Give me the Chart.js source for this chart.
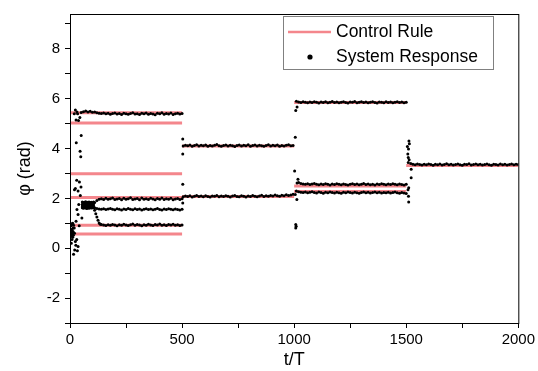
<!DOCTYPE html>
<html lang="en">
<head>
    <meta charset="UTF-8">
    <title>Control rule vs system response</title>
    <style>
        body { margin: 0; background: #fff; }
        canvas { display: block; }
    </style>
</head>
<body>
    <canvas id="myChart" width="538" height="371"></canvas>

<script src="https://cdn.jsdelivr.net/npm/chart.js@4.4.0/dist/chart.umd.min.js"></script>

<script>
    // control rule: horizontal pieces (start t, end t, phi)
    const ruleStart = [0, 0, 0, 0, 0, 0, 500, 500, 1000, 1000, 1000, 1500];
    const ruleEnd   = [500, 500, 500, 500, 500, 500, 1000, 1000, 1500, 1500, 1500, 2000];
    const ruleValue = [5.44, 5.03, 2.99, 2.04, 0.92, 0.57, 4.10, 2.08, 5.85, 2.50, 2.28, 3.32];

    // system response, sampled every 10 t/T on each plateau
    const step = 10;
    const topStart = 60;
    const topA = [5.48,5.51,5.47,5.50,5.46,5.47,5.44,5.42,5.41,5.43,
                  5.40,5.42,5.38,5.41,5.43,5.39,5.41,5.37,5.42,5.40,
                  5.38,5.41,5.44,5.39,5.40,5.37,5.42,5.40,5.43,5.38,
                  5.41,5.39,5.36,5.42,5.40,5.44,5.38,5.41,5.39,5.43,
                  5.37,5.40,5.42,5.39,5.41];
    const upperStart = 110;
    const upperB = [1.84,1.92,1.97,1.99,1.96,2.01,1.97,1.99,2.02,1.96,
                    1.98,2.00,1.95,2.01,1.97,1.99,2.03,1.96,1.98,2.00,
                    1.95,2.02,1.97,1.99,1.96,2.01,1.98,1.95,2.00,1.97,
                    2.02,1.96,1.99,1.97,2.01,1.95,1.98,2.00,1.96,1.99];
    const middleStart = 110;
    const middleC = [1.62,1.59,1.57,1.56,1.58,1.55,1.57,1.59,1.56,1.54,
                     1.58,1.56,1.53,1.57,1.55,1.59,1.56,1.54,1.58,1.55,
                     1.57,1.53,1.56,1.58,1.55,1.57,1.54,1.56,1.59,1.55,
                     1.53,1.57,1.55,1.58,1.56,1.54,1.57,1.55,1.53,1.56];
    const lowerStart = 140;
    const lowerD = [0.95,0.93,0.91,0.94,0.92,0.95,0.93,0.90,0.94,0.92,
                    0.96,0.93,0.91,0.94,0.97,0.92,0.95,0.93,0.90,0.94,
                    0.92,0.96,0.93,0.91,0.95,0.93,0.97,0.92,0.94,0.91,
                    0.95,0.93,0.96,0.92,0.94,0.91,0.93];
    // dense block before the branches split (every 5 t/T)
    const blockStart = 55;
    const blockStep = 5;
    const blockRows = [
        [1.86,1.84,1.85,1.87,1.83,1.85,1.86,1.84,1.85,1.83,1.86],
        [1.77,1.79,1.76,1.78,1.77,1.75,1.78,1.77,1.79,1.76,1.78],
        [1.70,1.68,1.69,1.71,1.67,1.70,1.69,1.68,1.70,1.69,1.71],
        [1.62,1.60,1.63,1.61,1.59,1.62,1.60,1.63,1.61,1.62,1.63]
    ];
    const secondStart = 505;
    const secondE = [4.10,4.13,4.11,4.14,4.09,4.12,4.15,4.10,4.13,4.11,
                     4.14,4.09,4.12,4.10,4.13,4.16,4.11,4.09,4.12,4.14,
                     4.10,4.13,4.11,4.08,4.12,4.14,4.10,4.13,4.11,4.15,
                     4.09,4.12,4.14,4.10,4.13,4.11,4.09,4.12,4.15,4.10,
                     4.13,4.11,4.14,4.09,4.12,4.10,4.13,4.15,4.11,4.12];
    const secondF = [2.07,2.10,2.08,2.11,2.06,2.09,2.12,2.08,2.10,2.07,
                     2.11,2.08,2.06,2.10,2.09,2.12,2.07,2.10,2.08,2.11,
                     2.09,2.06,2.10,2.12,2.08,2.07,2.11,2.09,2.06,2.10,
                     2.08,2.12,2.09,2.07,2.10,2.13,2.08,2.11,2.09,2.12,
                     2.10,2.14,2.11,2.09,2.13,2.11,2.15,2.12,2.14,2.17];
    const thirdStart = 1010;
    const thirdG = [5.90,5.87,5.85,5.88,5.86,5.84,5.87,5.85,5.88,5.86,
                    5.83,5.87,5.85,5.88,5.84,5.86,5.89,5.85,5.87,5.84,
                    5.86,5.88,5.85,5.83,5.87,5.86,5.89,5.84,5.86,5.88,
                    5.85,5.87,5.84,5.86,5.88,5.85,5.83,5.87,5.86,5.84,
                    5.88,5.85,5.87,5.84,5.86,5.88,5.85,5.87,5.84,5.86];
    const thirdHStart = 1020;
    const thirdH = [2.64,2.60,2.58,2.57,2.59,2.56,2.58,2.60,2.57,2.55,
                    2.58,2.56,2.59,2.57,2.54,2.58,2.56,2.59,2.57,2.55,
                    2.58,2.56,2.54,2.57,2.59,2.56,2.58,2.55,2.57,2.60,
                    2.56,2.58,2.55,2.57,2.54,2.58,2.56,2.59,2.57,2.55,
                    2.58,2.56,2.59,2.57,2.55,2.58,2.56,2.54,2.57];
    const thirdI = [2.30,2.27,2.25,2.24,2.26,2.23,2.25,2.27,2.24,2.22,
                    2.26,2.24,2.21,2.25,2.23,2.26,2.24,2.22,2.25,2.23,
                    2.21,2.25,2.23,2.26,2.24,2.22,2.25,2.23,2.21,2.24,
                    2.26,2.23,2.25,2.22,2.24,2.26,2.23,2.25,2.22,2.24,
                    2.23,2.25,2.22,2.24,2.26,2.23,2.21,2.24,2.22,2.20];
    const fourthStart = 1520;
    const fourthJ = [3.40,3.37,3.35,3.38,3.36,3.34,3.37,3.35,3.38,3.36,
                     3.33,3.37,3.35,3.38,3.34,3.36,3.39,3.35,3.37,3.34,
                     3.36,3.38,3.35,3.33,3.37,3.36,3.39,3.34,3.36,3.38,
                     3.35,3.37,3.34,3.36,3.38,3.35,3.33,3.37,3.36,3.34,
                     3.38,3.35,3.37,3.34,3.36,3.38,3.35,3.37,3.36];

    // scattered transient points [t, phi]
    const transients = [
        [4,0.55],[5,0.90],[6,0.75],[7,0.62],[8,0.48],[9,0.35],[10,0.70],[11,0.58],
        [12,0.44],[13,0.80],[14,0.66],[15,0.52],[16,0.92],[6,0.20],[9,0.98],[12,1.00],
        [16,-0.24],[19,0.81],[20,0.60],[21,-0.07],[24,0.27],[26,0.12],[27,1.08],[30,0.35],
        [36,0.07],[33,-0.10],[41,0.90],[36,1.35],[31,1.55],[39,1.76],[46,2.12],[53,1.21],
        [20,2.35],[24,2.40],[36,2.30],[30,2.73],[42,2.66],[49,2.46],[28,4.23],[45,3.89],
        [48,3.67],[50,4.52],[27,5.15],[38,5.13],[31,5.47],[19,5.40],[34,5.40],[24,5.55],
        [44,5.25],[50,5.45],
        [105,1.62],[110,1.52],[115,1.38],[120,1.25],[125,1.12],[130,1.01],[135,0.96],
        [503,4.38],[503,3.78],[503,2.57],[503,1.82],
        [1007,5.53],[1013,5.67],[1005,4.45],[1002,3.10],[1017,2.77],[1013,2.62],
        [1005,2.16],[1012,1.96],[1007,0.95],[1007,0.81],[1009,0.88],
        [1514,4.19],[1512,4.30],[1510,3.98],[1507,3.78],[1509,3.64],[1509,3.44],
        [1522,3.17],[1522,2.83],[1511,2.43],[1510,2.09],[1511,1.86],[1505,4.08],
        [1513,3.55],[1508,2.35]
    ];

    const xTicks = [0, 500, 1000, 1500, 2000];
    const yTicks = [-2, 0, 2, 4, 6, 8];

    const ruleColor = '#f4868c';

    function plateau(start, values, dt) {
        return values.map((v, i) => ({ x: start + i * dt, y: v }));
    }

    const ruleData = [];
    ruleValue.forEach((v, i) => {
        ruleData.push({ x: ruleStart[i], y: v });
        ruleData.push({ x: ruleEnd[i], y: v });
        ruleData.push({ x: ruleEnd[i], y: null });
    });

    let responseData = []
        .concat(plateau(topStart, topA, step))
        .concat(plateau(upperStart, upperB, step))
        .concat(plateau(middleStart, middleC, step))
        .concat(plateau(lowerStart, lowerD, step))
        .concat(plateau(secondStart, secondE, step))
        .concat(plateau(secondStart, secondF, step))
        .concat(plateau(thirdStart, thirdG, step))
        .concat(plateau(thirdHStart, thirdH, step))
        .concat(plateau(thirdStart, thirdI, step))
        .concat(plateau(fourthStart, fourthJ, step));
    blockRows.forEach(row => {
        responseData = responseData.concat(plateau(blockStart, row, blockStep));
    });
    transients.forEach(p => responseData.push({ x: p[0], y: p[1] }));

    // frame + boxed legend, drawn by hand like the original figure
    const framePlugin = {
        id: 'frame',
        afterDraw(chart) {
            const ctx = chart.ctx;
            const a = chart.chartArea;
            ctx.save();
            ctx.strokeStyle = '#000';
            ctx.lineWidth = 1;
            ctx.strokeRect(a.left + 0.5, a.top + 0.5, a.right - a.left, a.bottom - a.top);

            // legend
            const ds = chart.data.datasets;
            ctx.strokeStyle = '#808080';
            ctx.strokeRect(283.5, 16.5, 210, 53);
            ctx.strokeStyle = ds[0].borderColor;
            ctx.lineWidth = 2.5;
            ctx.beginPath();
            ctx.moveTo(288, 32);
            ctx.lineTo(331, 32);
            ctx.stroke();
            ctx.fillStyle = '#000';
            ctx.beginPath();
            ctx.arc(310, 57, 2.6, 0, Math.PI * 2);
            ctx.fill();
            ctx.font = '17.5px "Liberation Sans", Arial, sans-serif';
            ctx.textBaseline = 'middle';
            ctx.textAlign = 'left';
            ctx.fillText(ds[0].label, 336, 32);
            ctx.fillText(ds[1].label, 336, 57);
            ctx.restore();
        }
    };

    Chart.defaults.font.family = '"Liberation Sans", Arial, sans-serif';
    Chart.defaults.color = '#000';

    const myChart = new Chart('myChart', {
        type: 'line',
        data: {
            datasets: [
                {
                    label: 'Control Rule',
                    data: ruleData,
                    borderColor: ruleColor,
                    borderWidth: 3,
                    pointRadius: 0,
                    spanGaps: false,
                    order: 2
                },
                {
                    label: 'System Response',
                    data: responseData,
                    showLine: false,
                    pointRadius: 1.5,
                    pointBorderWidth: 0,
                    pointBackgroundColor: '#000',
                    order: 1
                }
            ]
        },
        options: {
            responsive: false,
            animation: false,
            layout: { padding: { top: 11, right: 19, left: 0, bottom: 0 } },
            plugins: {
                legend: { display: false },
                tooltip: { enabled: false }
            },
            scales: {
                x: {
                    type: 'linear',
                    min: 0,
                    max: 2000,
                    afterFit(scale) { scale.height = 48; },
                    border: { color: '#000', width: 1 },
                    grid: { drawOnChartArea: false, tickLength: 5, tickColor: '#000' },
                    ticks: {
                        stepSize: 250,
                        padding: 3,
                        font: { size: 15 },
                        maxRotation: 0,
                        autoSkip: false,
                        callback: v => xTicks.includes(v) ? v : ''
                    },
                    title: {
                        display: true,
                        text: 't/T',
                        font: { size: 18 },
                        padding: { top: 0, bottom: 0 }
                    }
                },
                y: {
                    min: -3,
                    max: 9.4,
                    afterFit(scale) { scale.width = 70; },
                    border: { color: '#000', width: 1 },
                    grid: { drawOnChartArea: false, tickLength: 5, tickColor: '#000' },
                    ticks: {
                        stepSize: 1,
                        includeBounds: false,
                        padding: 5,
                        font: { size: 15 },
                        autoSkip: false,
                        callback: v => yTicks.includes(v) ? v : ''
                    },
                    title: {
                        display: true,
                        text: 'φ (rad)',
                        font: { size: 18 },
                        padding: { top: 14, bottom: 0 }
                    }
                }
            }
        },
        plugins: [framePlugin]
    });
</script>
</body>
</html>
